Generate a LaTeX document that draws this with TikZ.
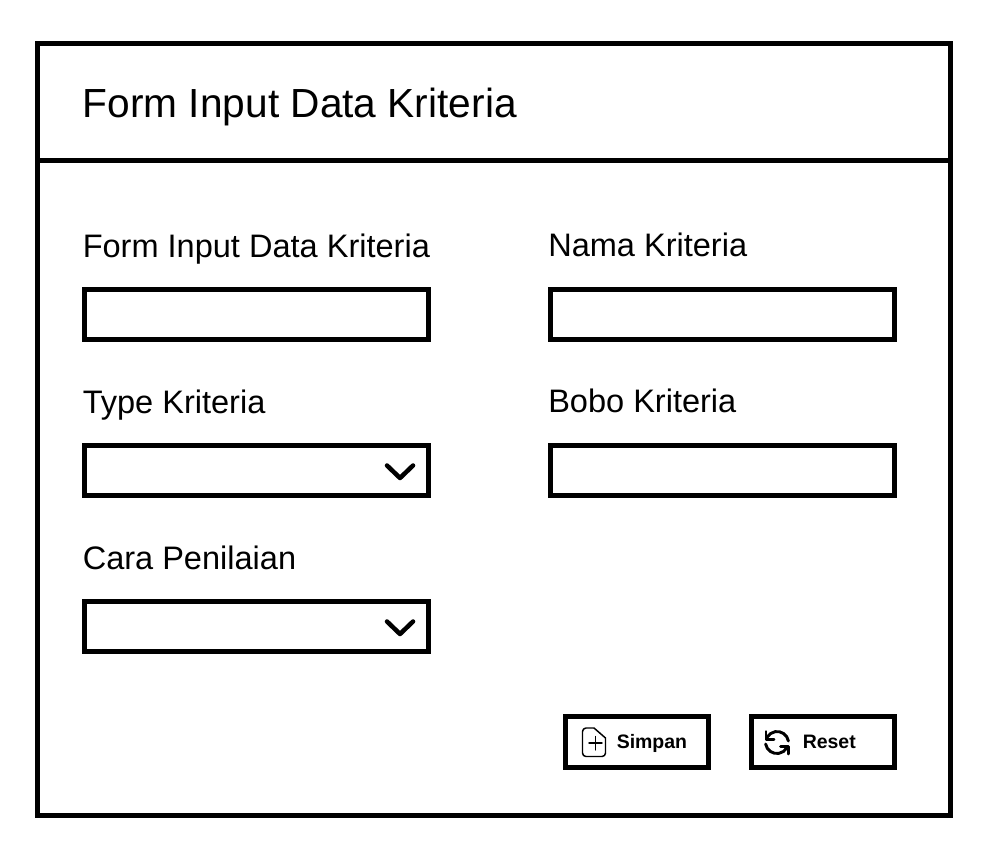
\documentclass[tikz,border=0pt]{standalone}
\usepackage{fontspec}
\setmainfont{Liberation Sans}
\usetikzlibrary{positioning}

\tikzset{
    frame/.style={draw, line width=3.75pt},
    field/.style={draw, line width=3.75pt, inner sep=0pt, minimum width=258pt, minimum height=37.5pt},
    btn/.style={draw, line width=3.75pt, inner sep=0pt, minimum width=107.25pt, minimum height=38.25pt},
    title/.style={anchor=base west, inner sep=0pt, font=\fontsize{30.5}{36}\selectfont},
    lbl/.style={anchor=base west, inner sep=0pt, font=\fontsize{24.4}{28}\selectfont},
    btnlbl/.style={anchor=base west, inner sep=0pt, font=\bfseries\fontsize{14.6}{18}\selectfont},
    chevron/.style={line width=3.4pt, line cap=round, line join=round},
    icon/.style={line width=1.1pt, line join=round, line cap=round},
    reseticon/.style={line width=2.2pt, line join=round, line cap=round},
}

\begin{document}
\begin{tikzpicture}[x=0.75pt, y=-0.75pt]
    \useasboundingbox (0, 0) rectangle (987, 860);
    \node[frame, inner sep=0pt, minimum width=684.75pt, minimum height=579pt] (box) at (494, 429.5) {};
    \draw[frame] (box.west |- 0, 160) -- (box.east |- 0, 160);
    \node[title] (head) at (82.5, 117) {Form Input Data Kriteria};

    \node[lbl] (lblkode) at (82.5, 257) {Form Input Data Kriteria};
    \node[lbl] (lblnama) at (548, 256) {Nama Kriteria};
    \node[lbl] (lbltype) at (82.5, 413) {Type Kriteria};
    \node[lbl] (lblbobot) at (548, 412) {Bobo Kriteria};
    \node[lbl] (lblcara) at (82.5, 569) {Cara Penilaian};

    \node[field] (kode) at (256.5, 314.5) {};
    \node[field] (nama) at (722.5, 314.5) {};
    \node[field] (type) at (256.5, 470.5) {};
    \node[field] (bobot) at (722.5, 470.5) {};
    \node[field] (cara) at (256.5, 626.5) {};

    % dropdown arrows
    \draw[chevron] (387, 465.5) -- (400, 478) -- (413, 465.5);
    \draw[chevron] (387, 621.5) -- (400, 634) -- (413, 621.5);

    \node[btn] (simpan) at (637, 742) {};
    \node[btn] (reset) at (823, 742) {};
    \node[btnlbl] (lblsimpan) at (616.5, 748.5) {Simpan};
    \node[btnlbl] (lblreset) at (802.5, 748.5) {Reset};

    % file icon
    \draw[icon] (594, 728) -- (586, 728) to[out=180, in=90] (582.5, 731.5) -- (582.5, 753) to[out=270, in=180] (586, 756.5)
        -- (602, 756.5) to[out=0, in=270] (605.5, 753) -- (605.5, 738) -- cycle;
    \draw[icon] (595.5, 736.5) -- (595.5, 750);
    \draw[icon] (589, 743) -- (602, 743);

    % reset icon
    \draw[reseticon] (788.4, 741) arc[start angle=-10, end angle=-150, radius=11.5];
    \draw[reseticon] (765.6, 744) arc[start angle=170, end angle=30, radius=11.5];
    \draw[reseticon] (766, 731.5) -- (766, 739.5) -- (774, 739.5);
    \draw[reseticon] (788.5, 754) -- (788.5, 746.5) -- (780.5, 746.5);
\end{tikzpicture}
\end{document}
